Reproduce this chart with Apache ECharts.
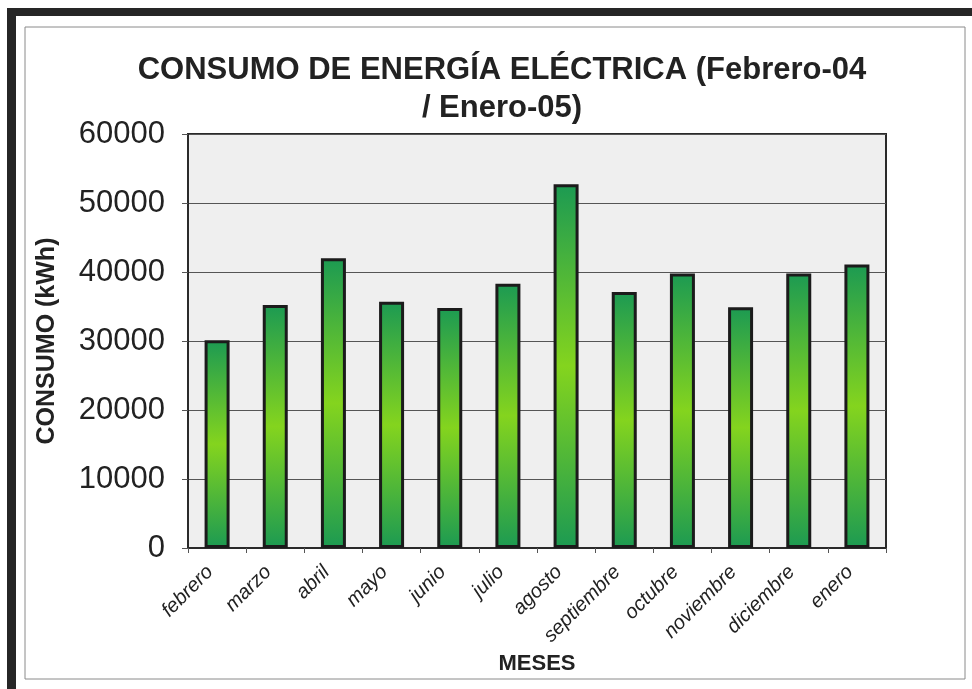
<!DOCTYPE html>
<html>
<head>
<meta charset="utf-8">
<script src="https://cdn.jsdelivr.net/npm/echarts@6/dist/echarts.min.js"></script>
<style>
  html, body { margin: 0; padding: 0; background: #fff; }
  #chart { width: 972px; height: 689px; }
</style>
</head>
<body>
<div id="chart"></div>
<script>
// datos
const meses = ['febrero', 'marzo', 'abril', 'mayo', 'junio', 'julio', 'agosto',
  'septiembre', 'octubre', 'noviembre', 'diciembre', 'enero']
const consumo = [30100, 35200, 42000, 35700, 34800, 38300, 52700,
  37100, 39800, 34900, 39800, 41100]
const yTicks = [0, 10000, 20000, 30000, 40000, 50000, 60000]

const chart = echarts.init(document.getElementById('chart'))

const barColor = new echarts.graphic.LinearGradient(0, 0, 0, 1, [
  { offset: 0, color: '#1c9a52' },
  { offset: 0.5, color: '#84d41e' },
  { offset: 1, color: '#1c9a52' }
])

const option = {
  backgroundColor: '#fff',
  animation: false,
  title: {
    text: 'CONSUMO DE ENERGÍA ELÉCTRICA (Febrero-04\n/ Enero-05)',
    left: 497,
    textAlign: 'center',
    top: 46,
    textStyle: {
      fontFamily: 'Liberation Sans, Arial, sans-serif',
      fontWeight: 'bold',
      fontSize: 31,
      lineHeight: 38,
      color: '#222'
    }
  },
  graphic: [
    // marco del escaneo
    { type: 'rect', shape: { x: 7, y: 8, width: 9, height: 681 }, style: { fill: '#262626' } },
    { type: 'rect', shape: { x: 7, y: 8, width: 965, height: 8 }, style: { fill: '#262626' } },
    { type: 'rect', shape: { x: 25, y: 27, width: 940, height: 652 }, style: { fill: 'none', stroke: '#8a8a8a', lineWidth: 1 } }
  ],
  grid: {
    left: 188,
    right: 86,
    top: 134,
    bottom: 141,
    show: true,
    backgroundColor: '#efefef',
    borderColor: '#2a2a2a',
    borderWidth: 2
  },
  xAxis: {
    type: 'category',
    data: meses,
    name: 'MESES',
    nameLocation: 'middle',
    nameGap: 100,
    nameTextStyle: {
      fontFamily: 'Liberation Sans, Arial, sans-serif',
      fontWeight: 'bold',
      fontSize: 22,
      color: '#222'
    },
    axisLine: { show: true, lineStyle: { color: '#2a2a2a', width: 2 } },
    axisTick: { show: true, length: 5, lineStyle: { color: '#555' } },
    axisLabel: {
      rotate: 45,
      margin: 14,
      padding: [0, 10, 0, 0],
      interval: 0,
      fontFamily: 'Liberation Sans, Arial, sans-serif',
      fontStyle: 'italic',
      fontSize: 20,
      color: '#222'
    }
  },
  yAxis: {
    type: 'value',
    min: yTicks[0],
    max: yTicks[yTicks.length - 1],
    interval: yTicks[1] - yTicks[0],
    name: 'CONSUMO (kWh)',
    nameLocation: 'middle',
    nameGap: 128,
    nameTextStyle: {
      fontFamily: 'Liberation Sans, Arial, sans-serif',
      fontWeight: 'bold',
      fontSize: 25,
      color: '#222'
    },
    axisLine: { show: true, lineStyle: { color: '#2a2a2a', width: 2 } },
    axisTick: { show: true, length: 6, lineStyle: { color: '#555' } },
    axisLabel: {
      margin: 23,
      formatter: v => String(v),
      fontFamily: 'Liberation Sans, Arial, sans-serif',
      fontSize: 31,
      color: '#222'
    },
    splitLine: { show: true, lineStyle: { color: '#555', width: 1 } }
  },
  series: [{
    name: 'consumo',
    type: 'bar',
    data: consumo,
    barWidth: 25,
    itemStyle: {
      color: barColor,
      borderColor: '#1b1b1b',
      borderWidth: 3
    }
  }]
}

chart.setOption(option)
</script>
</body>
</html>
